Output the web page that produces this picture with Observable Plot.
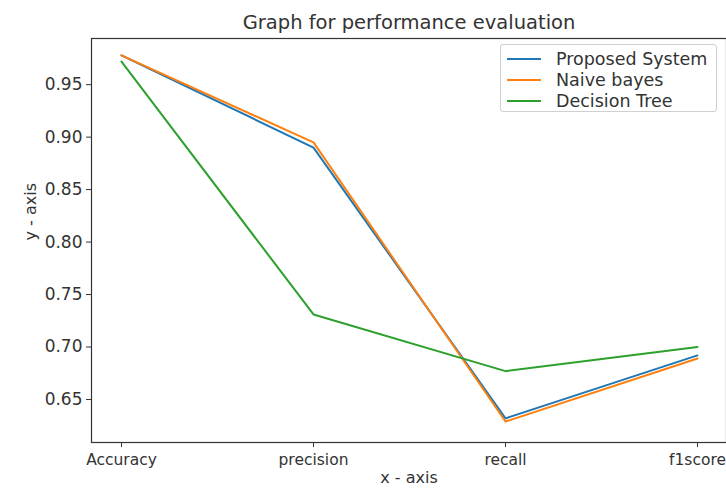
<!DOCTYPE html>
<html>
<head>
<meta charset="utf-8">
<script src="https://cdn.jsdelivr.net/npm/d3@7"></script>
<script src="https://cdn.jsdelivr.net/npm/@observablehq/plot@0.6"></script>
<style>
  html, body { margin: 0; padding: 0; background: #fff; }
  #wrap { position: relative; width: 726px; height: 488px; font-family: "DejaVu Sans", sans-serif; }
  #legend { position: absolute; left: 500px; top: 44px; width: 217px; height: 68px;
    border: 1px solid #d0d0d0; border-radius: 3px; background: rgba(255,255,255,0.85); box-sizing: border-box; }
  .item { position: absolute; left: 6px; height: 20px; display: flex; align-items: center; font-size: 17.5px; color: #333; }
  .swatch { width: 34px; height: 2px; margin-right: 15px; }
</style>
</head>
<body>
<div id="wrap"></div>
<script>
const metrics = ["Accuracy", "precision", "recall", "f1score"];
const seriesNames = ["Proposed System", "Naive bayes", "Decision Tree"];
const proposedSystem = [0.978, 0.890, 0.632, 0.692];
const naiveBayes = [0.978, 0.895, 0.629, 0.689];
const decisionTree = [0.972, 0.731, 0.677, 0.700];
const yTicks = [0.65, 0.70, 0.75, 0.80, 0.85, 0.90, 0.95];
const colors = ["#1f77b4", "#ff7f0e", "#2ca02c"];

const allSeries = [proposedSystem, naiveBayes, decisionTree];
const rows = allSeries.flatMap((vals, s) => vals.map((v, i) => ({series: seriesNames[s], metric: metrics[i], value: v})));

const plot = Plot.plot({
  width: 726,
  height: 488,
  marginLeft: 91,
  marginRight: 0,
  marginTop: 38,
  marginBottom: 46,
  style: {fontFamily: "DejaVu Sans, sans-serif", fontSize: "17px", color: "#333", background: "#fff"},
  x: {type: "point", domain: metrics, range: [91, 727], padding: 0.15},
  y: {domain: [0.609, 0.994]},
  color: {domain: seriesNames, range: colors},
  marks: [
    Plot.frame({stroke: "#333", strokeWidth: 1.2}),
    Plot.axisX({ticks: metrics, tickSize: 5, tickPadding: 6, label: null, fontSize: 15.5, stroke: "#333"}),
    Plot.axisY({ticks: yTicks, tickFormat: d3.format(".2f"), tickSize: 5, tickPadding: 4, label: null, fontSize: 17}),
    ...seriesNames.map(name => Plot.line(rows.filter(r => r.series === name), {
      x: "metric", y: "value", stroke: "series", strokeWidth: 2
    })),
    Plot.text(["Graph for performance evaluation"], {frameAnchor: "top", lineAnchor: "bottom", dy: -10, fontSize: 19.5, fill: "#333"}),
    Plot.text(["x - axis"], {frameAnchor: "bottom", dy: 40, fontSize: 16, fill: "#333"}),
    Plot.text(["y - axis"], {frameAnchor: "left", dx: -61, rotate: -90, fontSize: 16, fill: "#333"})
  ]
});

const wrap = document.getElementById("wrap");
wrap.appendChild(plot);
const legend = document.createElement("div");
legend.id = "legend";
seriesNames.forEach((name, i) => {
  const item = document.createElement("div");
  item.className = "item";
  item.style.top = (4 + i * 21) + "px";
  const sw = document.createElement("div");
  sw.className = "swatch";
  sw.style.background = colors[i];
  item.appendChild(sw);
  item.appendChild(document.createTextNode(name));
  legend.appendChild(item);
});
wrap.appendChild(legend);
</script>
</body>
</html>
